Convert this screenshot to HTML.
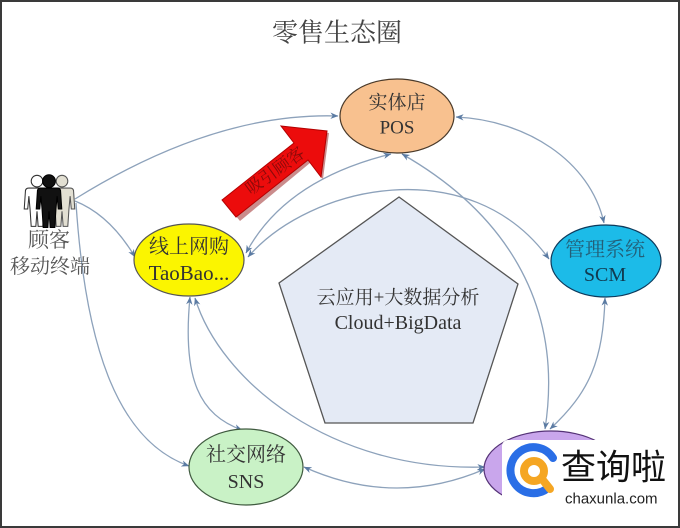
<!DOCTYPE html>
<html>
<head>
<meta charset="utf-8">
<style>
  html,body{margin:0;padding:0;background:#fff;}
  #wrap{position:relative;width:680px;height:528px;overflow:hidden;background:#fff;}
  #frame{position:absolute;left:0;top:0;width:680px;height:528px;box-sizing:border-box;border:2px solid #3a3a3a;}
  svg{position:absolute;left:0;top:0;}
  .cj{font-family:"Liberation Serif","Noto Serif CJK SC",serif;}
  .ln{fill:none;stroke:#8da2bb;stroke-width:1.3;}
</style>
</head>
<body>
<div id="wrap">
<svg width="680" height="528" viewBox="0 0 680 528">
  <defs>
    <marker id="a" viewBox="0 0 10 10" refX="9.5" refY="5" markerWidth="8" markerHeight="8" orient="auto-start-reverse" markerUnits="userSpaceOnUse">
      <path d="M0,1 L10,5 L0,9 L3,5 z" fill="#5b7ba3"/>
    </marker>
  </defs>

  <!-- title -->
  <text x="337" y="33" class="cj" font-size="26" fill="#444" text-anchor="middle" dominant-baseline="central">零售生态圈</text>

  <!-- pentagon -->
  <polygon points="399,197 518,284 473,423 325,423 279,283" fill="#e4eaf5" stroke="#555" stroke-width="1.3"/>
  <text x="398" y="298" class="cj" font-size="19" fill="#333" text-anchor="middle" dominant-baseline="central">云应用+大数据分析</text>
  <text x="398" y="323" class="cj" font-size="20" fill="#333" text-anchor="middle" dominant-baseline="central">Cloud+BigData</text>

  <!-- connectors -->
  <path class="ln" d="M75,199 Q215,112 338,116" marker-end="url(#a)"/>
  <path class="ln" d="M75,201 Q110,215 135,257" marker-end="url(#a)"/>
  <path class="ln" d="M76,203 C85,340 115,440 189,466" marker-end="url(#a)"/>
  <path class="ln" d="M246,253 Q285,180 391,154" marker-start="url(#a)" marker-end="url(#a)"/>
  <path class="ln" d="M248,257 C310,185 470,150 549,259" marker-start="url(#a)" marker-end="url(#a)"/>
  <path class="ln" d="M456,117 C525,120 590,160 604,223" marker-start="url(#a)" marker-end="url(#a)"/>
  <path class="ln" d="M402,154 C500,210 565,300 545,429" marker-start="url(#a)" marker-end="url(#a)"/>
  <path class="ln" d="M605,298 C603,360 590,392 550,429" marker-start="url(#a)" marker-end="url(#a)"/>
  <path class="ln" d="M190,297 C182,380 200,415 242,430" marker-start="url(#a)" marker-end="url(#a)"/>
  <path class="ln" d="M195,298 C220,380 330,472 485,467" marker-start="url(#a)" marker-end="url(#a)"/>
  <path class="ln" d="M304,467 Q395,508 485,469" marker-start="url(#a)" marker-end="url(#a)"/>

  <!-- POS -->
  <ellipse cx="397" cy="116" rx="57" ry="37" fill="#f8c18f" stroke="#4a3a2a" stroke-width="1.2"/>
  <text x="397" y="103" class="cj" font-size="19" fill="#333" text-anchor="middle" dominant-baseline="central">实体店</text>
  <text x="397" y="128" class="cj" font-size="19" fill="#333" text-anchor="middle" dominant-baseline="central">POS</text>

  <!-- yellow -->
  <ellipse cx="189" cy="260" rx="55" ry="36" fill="#fbf500" stroke="#555" stroke-width="1.2"/>
  <text x="189" y="247" class="cj" font-size="20" fill="#333" text-anchor="middle" dominant-baseline="central">线上网购</text>
  <text x="189" y="273" class="cj" font-size="21" fill="#333" text-anchor="middle" dominant-baseline="central">TaoBao...</text>

  <!-- SCM -->
  <ellipse cx="606" cy="261" rx="55" ry="36" fill="#1cbbe8" stroke="#0d3a5c" stroke-width="1.2"/>
  <text x="605" y="250" class="cj" font-size="20" fill="#235f78" text-anchor="middle" dominant-baseline="central">管理系统</text>
  <text x="605" y="275" class="cj" font-size="20" fill="#113a50" text-anchor="middle" dominant-baseline="central">SCM</text>

  <!-- SNS -->
  <ellipse cx="246" cy="467" rx="57" ry="38" fill="#c9f2c6" stroke="#3f5a3f" stroke-width="1.2"/>
  <text x="246" y="455" class="cj" font-size="20" fill="#333" text-anchor="middle" dominant-baseline="central">社交网络</text>
  <text x="246" y="482" class="cj" font-size="20" fill="#333" text-anchor="middle" dominant-baseline="central">SNS</text>

  <!-- purple -->
  <ellipse cx="551" cy="469" rx="67" ry="38" fill="#c9a6ec" stroke="#553377" stroke-width="1.2"/>

  <!-- red arrow -->
  <polygon points="224,202 294,143 281,126 327,131 321,177 308,161 238,219" fill="#8a0000" opacity="0.45" transform="translate(2,2)"/>
  <polygon points="222,200 294,143 281,126 327,131 321,177 308,160 236,217" fill="#ec0c0c" stroke="#b30000" stroke-width="1"/>
  <text x="275" y="171" class="cj" font-size="17" fill="#8a0a0a" text-anchor="middle" dominant-baseline="central" transform="rotate(-36 275 171)">吸引顾客</text>

  <!-- people icon -->
  <g stroke="#333" stroke-width="0.9">
    <g transform="translate(37,-30) scale(1.16)" fill="#fff">
      <circle cx="0" cy="182" r="5"/>
      <path d="M-7,188 L7,188 Q10,188 10,191 L11,206 L8,206 L7,195 L6,206 L5,221 L1,221 L0,208 L-1,221 L-5,221 L-6,206 L-7,195 L-8,206 L-11,206 L-10,191 Q-10,188 -7,188 Z"/>
    </g>
    <g transform="translate(62,-30) scale(1.16)" fill="#e2dfd2" stroke="#555">
      <circle cx="0" cy="182" r="5"/>
      <path d="M-7,188 L7,188 Q10,188 10,191 L11,206 L8,206 L7,195 L6,206 L5,221 L1,221 L0,208 L-1,221 L-5,221 L-6,206 L-7,195 L-8,206 L-11,206 L-10,191 Q-10,188 -7,188 Z"/>
    </g>
    <g transform="translate(49,-30) scale(1.16)" fill="#111" stroke="#000">
      <circle cx="0" cy="182" r="5.5"/>
      <path d="M-7,188 L7,188 Q10,188 10,191 L11,206 L8,206 L7,195 L6,206 L5,222 L1,222 L0,208 L-1,222 L-5,222 L-6,206 L-7,195 L-8,206 L-11,206 L-10,191 Q-10,188 -7,188 Z"/>
    </g>
  </g>
  <text x="49" y="240" class="cj" font-size="21" fill="#555" text-anchor="middle" dominant-baseline="central">顾客</text>
  <text x="50" y="267" class="cj" font-size="20" fill="#555" text-anchor="middle" dominant-baseline="central">移动终端</text>

  <!-- watermark -->
  <rect x="502" y="440" width="174" height="72" rx="6" fill="#fff"/>
  <path d="M553,458 A23,23 0 1 0 548,488" fill="none" stroke="#2a6ee6" stroke-width="8" stroke-linecap="round"/>
  <circle cx="534" cy="471" r="10" fill="none" stroke="#f5a623" stroke-width="8"/>
  <line x1="542" y1="479" x2="550" y2="489" stroke="#f5a623" stroke-width="8" stroke-linecap="round"/>
  <text x="561" y="468" font-family="'Liberation Sans','Noto Sans CJK SC',sans-serif" font-size="35" fill="#111" dominant-baseline="central">查询啦</text>
  <text x="565" y="499" font-family="'Liberation Sans',sans-serif" font-size="15" fill="#222" dominant-baseline="central">chaxunla.com</text>
</svg>
<div id="frame"></div>
</div>
</body>
</html>
